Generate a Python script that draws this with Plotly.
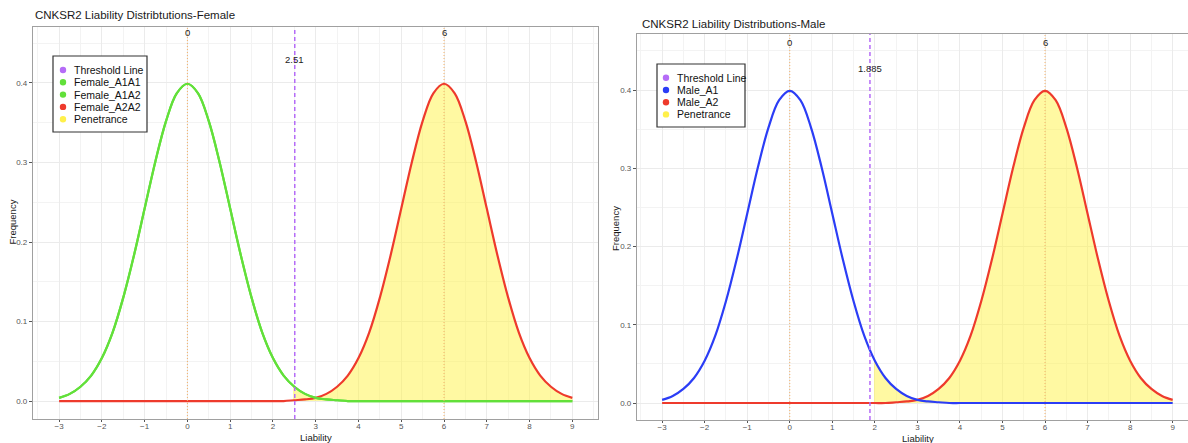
import plotly.graph_objects as go

# ---------------- data ----------------
liability = [-3.0, -2.75, -2.5, -2.25, -2.0, -1.75, -1.5, -1.25, -1.0, -0.75, -0.5, -0.25,
             0.0, 0.25, 0.5, 0.75, 1.0, 1.25, 1.5, 1.75, 2.0, 2.25, 2.5, 2.75,
             3.0, 3.25, 3.5, 3.75, 4.0, 4.25, 4.5, 4.75, 5.0, 5.25, 5.5, 5.75,
             6.0, 6.25, 6.5, 6.75, 7.0, 7.25, 7.5, 7.75, 8.0, 8.25, 8.5, 8.75, 9.0]

# frequency of the curve centred at 0 (Female_A1A1 / Female_A1A2 / Male_A1)
freq_low = [0.004, 0.009, 0.018, 0.032, 0.054, 0.086, 0.130, 0.183, 0.242, 0.301, 0.352, 0.387,
            0.399, 0.387, 0.352, 0.301, 0.242, 0.183, 0.130, 0.086, 0.054, 0.032, 0.018, 0.009,
            0.004, 0.002, 0.001, 0.0, 0.0, 0.0, 0.0, 0.0, 0.0, 0.0, 0.0, 0.0,
            0.0, 0.0, 0.0, 0.0, 0.0, 0.0, 0.0, 0.0, 0.0, 0.0, 0.0, 0.0, 0.0]

# frequency of the curve centred at 6 (Female_A2A2 / Male_A2)
freq_high = [0.0, 0.0, 0.0, 0.0, 0.0, 0.0, 0.0, 0.0, 0.0, 0.0, 0.0, 0.0,
             0.0, 0.0, 0.0, 0.0, 0.0, 0.0, 0.0, 0.0, 0.0, 0.0, 0.001, 0.002,
             0.004, 0.009, 0.018, 0.032, 0.054, 0.086, 0.130, 0.183, 0.242, 0.301, 0.352, 0.387,
             0.399, 0.387, 0.352, 0.301, 0.242, 0.183, 0.130, 0.086, 0.054, 0.032, 0.018, 0.009, 0.004]

peak_labels = [0, 6]
female_threshold = 2.51
male_threshold = 1.885
female_pen_start = [2.47, 0.019]
male_pen_start = [1.98, 0.056]

female_title = "CNKSR2 Liability Distribtutions-Female"
male_title = "CNKSR2 Liability Distributions-Male"
female_legend = ["Threshold Line", "Female_A1A1", "Female_A1A2", "Female_A2A2", "Penetrance"]
male_legend = ["Threshold Line", "Male_A1", "Male_A2", "Penetrance"]
x_ticks = [-3, -2, -1, 0, 1, 2, 3, 4, 5, 6, 7, 8, 9]
y_ticks = [0.0, 0.1, 0.2, 0.3, 0.4]
y_tick_text = ["0.0", "0.1", "0.2", "0.3", "0.4"]

# ---------------- styling ----------------
W, H = 1188, 443
GREEN = "#62E03A"
RED = "#EE3A2C"
BLUE = "#2B3DF6"
PURPLE = "#B56CF7"
ORANGE = "#F4B067"
YELLOW_FILL = "rgba(255,244,70,0.5)"
YELLOW_DOT = "#FFF04A"
FONT = "Liberation Sans, Arial, sans-serif"


def px(x):
    return x / W


def py(y):
    return 1 - y / H


def penetrance(start):
    xs = [start[0]]
    ys = [start[1]]
    for x, a, b in zip(liability, freq_low, freq_high):
        if x > start[0]:
            xs.append(x)
            ys.append(max(a, b))
    return xs, ys


fig = go.Figure()

panels = [
    dict(xa="x", ya="y", thr=female_threshold, pen=female_pen_start,
         curves=[(freq_high, RED, 1), (freq_low, GREEN, 1), (freq_low, GREEN, 1)]),
    dict(xa="x2", ya="y2", thr=male_threshold, pen=male_pen_start,
         curves=[(freq_high, RED, 1), (freq_low, BLUE, 1)]),
]

for p in panels:
    pxs, pys = penetrance(p["pen"])
    fig.add_trace(go.Scatter(x=pxs, y=pys, xaxis=p["xa"], yaxis=p["ya"], mode="lines",
                             fill="tozeroy", fillcolor=YELLOW_FILL,
                             line=dict(width=0, shape="spline"), showlegend=False,
                             hoverinfo="skip"))
    for ys, col, op in p["curves"]:
        fig.add_trace(go.Scatter(x=liability, y=ys, xaxis=p["xa"], yaxis=p["ya"], mode="lines",
                                 line=dict(color=col, width=2.2, shape="spline", smoothing=1),
                                 opacity=op, showlegend=False))

shapes = []
annotations = []

for p, lab_y, thr_y in [(panels[0], 0.463, 0.429), (panels[1], 0.461, 0.428)]:
    for m in peak_labels:
        shapes.append(dict(type="line", xref=p["xa"], yref=p["ya"] + " domain", x0=m, x1=m,
                           y0=0, y1=1, line=dict(color=ORANGE, width=1, dash="1px,2px"),
                           layer="above"))
        annotations.append(dict(x=m, y=lab_y, xref=p["xa"], yref=p["ya"], text=str(m),
                                showarrow=False, font=dict(size=9.5, color="#222", family=FONT),
                                yanchor="middle"))
    shapes.append(dict(type="line", xref=p["xa"], yref=p["ya"] + " domain", x0=p["thr"],
                       x1=p["thr"], y0=0, y1=1,
                       line=dict(color=PURPLE, width=1.5, dash="4px,3px"), layer="above"))
    annotations.append(dict(x=p["thr"], y=thr_y, xref=p["xa"], yref=p["ya"], text=str(p["thr"]),
                            showarrow=False, font=dict(size=9.5, color="#222", family=FONT),
                            yanchor="middle"))

# titles
annotations.append(dict(x=px(33), y=py(15), xref="paper", yref="paper", text=female_title,
                        showarrow=False, xanchor="left", yanchor="middle",
                        font=dict(size=11.5, color="#1a1a1a", family=FONT)))
annotations.append(dict(x=px(640), y=py(24), xref="paper", yref="paper", text=male_title,
                        showarrow=False, xanchor="left", yanchor="middle",
                        font=dict(size=11.5, color="#1a1a1a", family=FONT)))
# axis titles
for xx, yy in [(315.5, 437.5), (917.5, 438.5)]:
    annotations.append(dict(x=px(xx), y=py(yy), xref="paper", yref="paper", text="Liability",
                            showarrow=False, xanchor="center", yanchor="middle",
                            font=dict(size=9.5, color="#1a1a1a", family=FONT)))
for xx, yy in [(11.5, 222), (615, 228)]:
    annotations.append(dict(x=px(xx), y=py(yy), xref="paper", yref="paper", text="Frequency",
                            showarrow=False, xanchor="center", yanchor="middle", textangle=-90,
                            font=dict(size=9.5, color="#1a1a1a", family=FONT)))

# manual legends
legend_specs = [
    dict(box=(53, 56, 147, 132), dot_x=63, text_x=72,
         rows=[70, 82.3, 94.6, 106.9, 119.2], labels=female_legend,
         colors=[PURPLE, GREEN, GREEN, RED, YELLOW_DOT]),
    dict(box=(657, 64, 745, 127), dot_x=666, text_x=675,
         rows=[77.7, 90, 102.2, 114.4], labels=male_legend,
         colors=[PURPLE, BLUE, RED, YELLOW_DOT]),
]
for lg in legend_specs:
    x0, y0, x1, y1 = lg["box"]
    shapes.append(dict(type="rect", xref="paper", yref="paper", x0=px(x0), x1=px(x1),
                       y0=py(y1), y1=py(y0), line=dict(color="#333", width=1.2),
                       fillcolor="white", layer="above"))
    for ry, lab, col in zip(lg["rows"], lg["labels"], lg["colors"]):
        r = 3.2
        shapes.append(dict(type="circle", xref="paper", yref="paper",
                           x0=px(lg["dot_x"] - r), x1=px(lg["dot_x"] + r),
                           y0=py(ry + r), y1=py(ry - r), fillcolor=col,
                           line=dict(width=0), layer="above"))
        annotations.append(dict(x=px(lg["text_x"]), y=py(ry), xref="paper", yref="paper",
                                text=lab, showarrow=False, xanchor="left", yanchor="middle",
                                font=dict(size=10.5, color="#111", family=FONT)))

axis_common = dict(
    showgrid=True, gridcolor="#EBEBEB", gridwidth=1, zeroline=False,
    showline=True, linecolor="#A0A0A0", linewidth=1.3,
    ticks="outside", tickcolor="#555", tickwidth=1,
    tickfont=dict(size=8, color="#555", family=FONT),
)

fig.update_layout(
    width=W, height=H, autosize=False,
    margin=dict(l=0, r=0, t=0, b=0),
    paper_bgcolor="white", plot_bgcolor="white",
    showlegend=False,
    shapes=shapes, annotations=annotations,
    xaxis=dict(domain=[px(33), px(598)], anchor="y", range=[-3.61, 9.60],
               tickvals=x_ticks, mirror=True, ticklen=2, ticklabelstandoff=-3,
               minor=dict(dtick=0.5, tick0=0, showgrid=True, gridcolor="#F3F3F3", ticks=""),
               **axis_common),
    yaxis=dict(domain=[py(419), py(27)], anchor="x", range=[-0.0226, 0.4704],
               tickvals=y_ticks, ticktext=y_tick_text, mirror=True, ticklen=3,
               minor=dict(dtick=0.05, tick0=0, showgrid=True, gridcolor="#F3F3F3", ticks=""),
               **axis_common),
    xaxis2=dict(domain=[px(637), 1.0], anchor="y2", range=[-3.59, 9.36],
                tickvals=x_ticks, mirror=True, ticklen=2, ticklabelstandoff=-3,
                minor=dict(dtick=0.5, tick0=0, showgrid=True, gridcolor="#F3F3F3", ticks=""),
                **axis_common),
    yaxis2=dict(domain=[py(420), py(34)], anchor="x2", range=[-0.0217, 0.4716],
                tickvals=y_ticks, ticktext=y_tick_text, mirror=False, ticklen=3,
                minor=dict(dtick=0.05, tick0=0, showgrid=True, gridcolor="#F3F3F3", ticks=""),
                **axis_common),
)

fig.write_html("out.html", config={"displayModeBar": False},
               post_script="document.body.style.margin='0';")
